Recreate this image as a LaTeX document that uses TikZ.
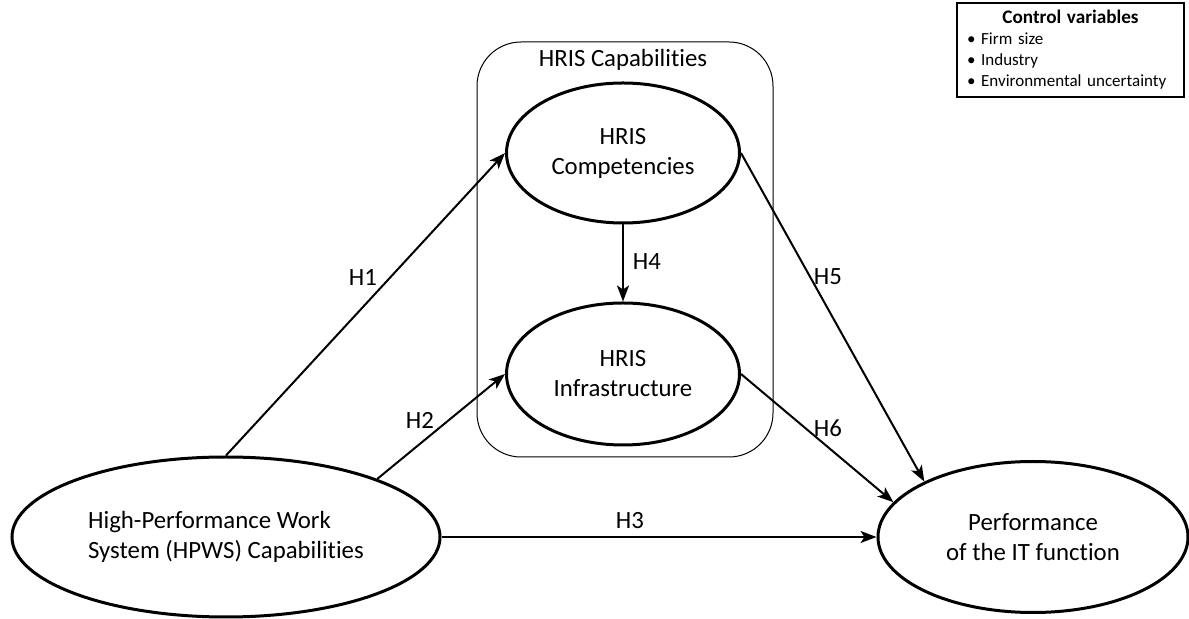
\documentclass[tikz,border=0pt]{standalone}
\usepackage{fontspec}
\setmainfont{Carlito}[Ligatures={NoCommon,NoContextual}]
\usepackage{tikz}
\usetikzlibrary{arrows.meta}
\usetikzlibrary{shapes.geometric}

\tikzset{
        construct/.style={ellipse, draw, line width=1.5pt, inner sep=0pt,
                align=center, font=\fontsize{12.4}{15}\selectfont},
        path/.style={line width=1pt, -{Stealth[length=8pt, width=6pt, inset=2pt]}},
        hyp/.style={font=\fontsize{12.4}{15}\selectfont},
}

\begin{document}
\begin{tikzpicture}[x=0.5pt, y=-0.5pt]
        \useasboundingbox (0,0) rectangle (1189,619);

        % HRIS block around the two HRIS constructs
        \draw[line width=0.5pt, rounded corners=22pt] (477,42) rectangle (773,457);
        \node[hyp] (capab) at (623,60) {HRIS Capabilities};

        \node[construct, minimum width=116.5pt, minimum height=70pt] (comp) at (623,153) {HRIS\\Competencies};
        \node[construct, minimum width=116.5pt, minimum height=71pt] (infra) at (623,374) {HRIS\\Infrastructure};
        \node[construct, minimum width=214pt, minimum height=80pt, align=left] (hpws) at (226,537)
                {High-Performance Work\\System (HPWS) Capabilities};
        \node[construct, minimum width=155pt, minimum height=75.5pt] (perf) at (1033,537)
                {Performance\\of the IT function};

        \draw[path] (hpws.90) -- (comp.180);
        \draw[path] (hpws.21) -- (infra.180);
        \draw[path] (hpws.east) -- (perf.west);
        \draw[path] (comp.south) -- (infra.north);
        \draw[path] (comp.east) -- (perf.153);
        \draw[path] (infra.east) -- (perf.166);

        \node[hyp] (h1) at (363,278) {H1};
        \node[hyp] (h2) at (420,420) {H2};
        \node[hyp] (h3) at (630,521) {H3};
        \node[hyp] (h4) at (647,262) {H4};
        \node[hyp] (h5) at (828,277) {H5};
        \node[hyp] (h6) at (828,428) {H6};

        % control variables
        \node[draw, line width=1pt, minimum width=113.5pt, minimum height=47pt, inner xsep=5pt,
                text width=103.5pt, align=left, font=\fontsize{8.5}{10.5}\selectfont] (ctrl) at (1070.5,50)
                {\makebox[103.5pt]{\fontsize{9.6}{10.5}\selectfont\textbf{Control variables}}\\
                 •~Firm size\\
                 •~Industry\\
                 •~Environmental uncertainty};
\end{tikzpicture}
\end{document}
